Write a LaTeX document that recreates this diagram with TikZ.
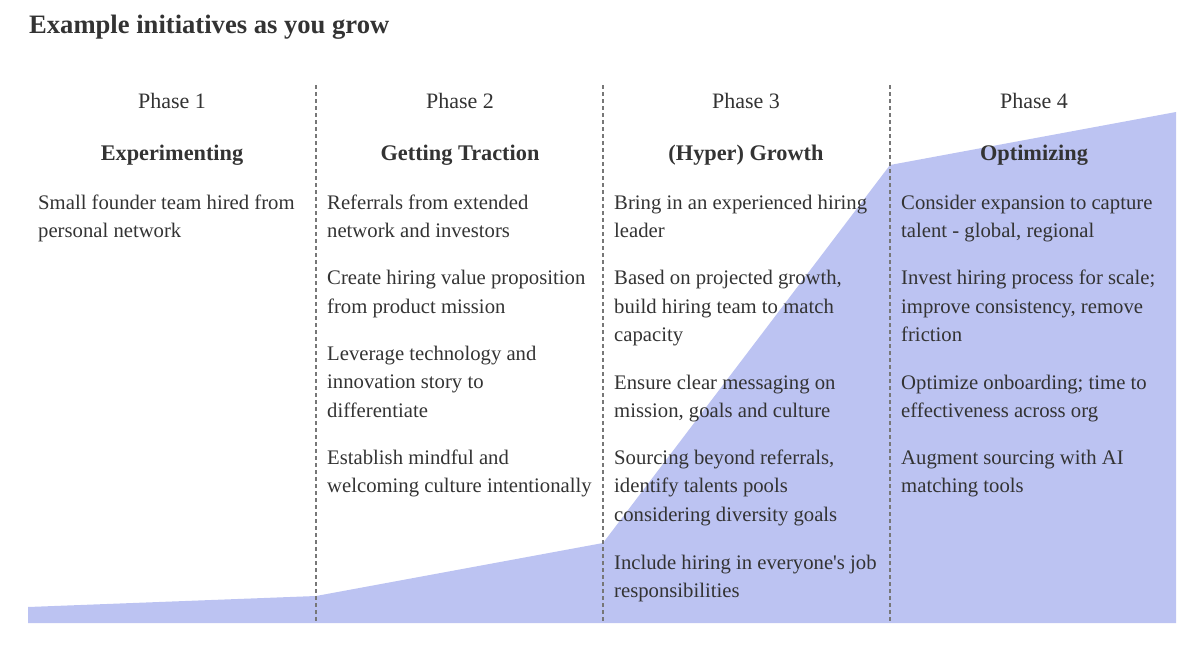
\documentclass[tikz,border=0pt]{standalone}
\usepackage{fontspec}
\setmainfont{Liberation Serif}
\definecolor{txt}{HTML}{333333}
\definecolor{area}{HTML}{BCC3F2}
\definecolor{sep}{HTML}{777777}
\begin{document}
\begin{tikzpicture}[x=1pt,y=1pt,
  body/.style={anchor=base west,inner sep=0pt,text=txt,font=\fontsize{20.7}{24}\selectfont},
  phase/.style={anchor=base,inner sep=0pt,text=txt,font=\fontsize{22}{26}\selectfont},
  head/.style={anchor=base,inner sep=0pt,text=txt,font=\fontsize{22.3}{26}\selectfont\bfseries},
  divider/.style={draw=sep,line width=1.6pt,dash pattern=on 4pt off 3pt}]
\useasboundingbox (0,0) rectangle (1200,-659);
% growth area
\fill[area] (28,-623) -- (28,-607) -- (316,-596) -- (603,-543) -- (890,-165) -- (1176,-112) -- (1176,-623) -- cycle;
% dividers
\foreach \x/\n in {316/a,603/b,890/c}{
  \coordinate (t\n) at (\x,-85);
  \coordinate (b\n) at (\x,-623);
  \draw[divider] (t\n) -- (b\n);
}
% title
\node[anchor=base west,inner sep=0pt,text=txt,font=\fontsize{26.6}{30}\selectfont\bfseries] (title) at (29,-33) {Example initiatives as you grow};
% phases
\node[phase] (ph1) at (172,-108) {Phase 1};
\node[phase] (ph2) at (460,-108) {Phase 2};
\node[phase] (ph3) at (746,-108) {Phase 3};
\node[phase] (ph4) at (1034,-108) {Phase 4};
\node[head] (h1) at (172,-160) {Experimenting};
\node[head] (h2) at (460,-160) {Getting Traction};
\node[head] (h3) at (746,-160) {(Hyper) Growth};
\node[head] (h4) at (1034,-160) {Optimizing};
% column 1
\node[body] (a1) at (38,-209) {Small founder team hired from};
\node[body] (a2) at (38,-237.5) {personal network};
% column 2
\node[body] (b1) at (327,-209) {Referrals from extended};
\node[body] (b2) at (327,-237.5) {network and investors};
\node[body] (b3) at (327,-284.5) {Create hiring value proposition};
\node[body] (b4) at (327,-313) {from product mission};
\node[body] (b5) at (327,-360) {Leverage technology and};
\node[body] (b6) at (327,-388.5) {innovation story to};
\node[body] (b7) at (327,-417) {differentiate};
\node[body] (b8) at (327,-464) {Establish mindful and};
\node[body] (b9) at (327,-492.5) {welcoming culture intentionally};
% column 3
\node[body] (c1) at (614,-209) {Bring in an experienced hiring};
\node[body] (c2) at (614,-237.5) {leader};
\node[body] (c3) at (614,-284.5) {Based on projected growth,};
\node[body] (c4) at (614,-313) {build hiring team to match};
\node[body] (c5) at (614,-341.5) {capacity};
\node[body] (c6) at (614,-389) {Ensure clear messaging on};
\node[body] (c7) at (614,-417.5) {mission, goals and culture};
\node[body] (c8) at (614,-464) {Sourcing beyond referrals,};
\node[body] (c9) at (614,-492.5) {identify talents pools};
\node[body] (c10) at (614,-521) {considering diversity goals};
\node[body] (c11) at (614,-569) {Include hiring in everyone\textquotesingle s job};
\node[body] (c12) at (614,-597.5) {responsibilities};
% column 4
\node[body] (d1) at (901,-209) {Consider expansion to capture};
\node[body] (d2) at (901,-237.5) {talent - global, regional};
\node[body] (d3) at (901,-284.5) {Invest hiring process for scale;};
\node[body] (d4) at (901,-313) {improve consistency, remove};
\node[body] (d5) at (901,-341.5) {friction};
\node[body] (d6) at (901,-389) {Optimize onboarding; time to};
\node[body] (d7) at (901,-417.5) {effectiveness across org};
\node[body] (d8) at (901,-464) {Augment sourcing with AI};
\node[body] (d9) at (901,-492.5) {matching tools};
\end{tikzpicture}
\end{document}
